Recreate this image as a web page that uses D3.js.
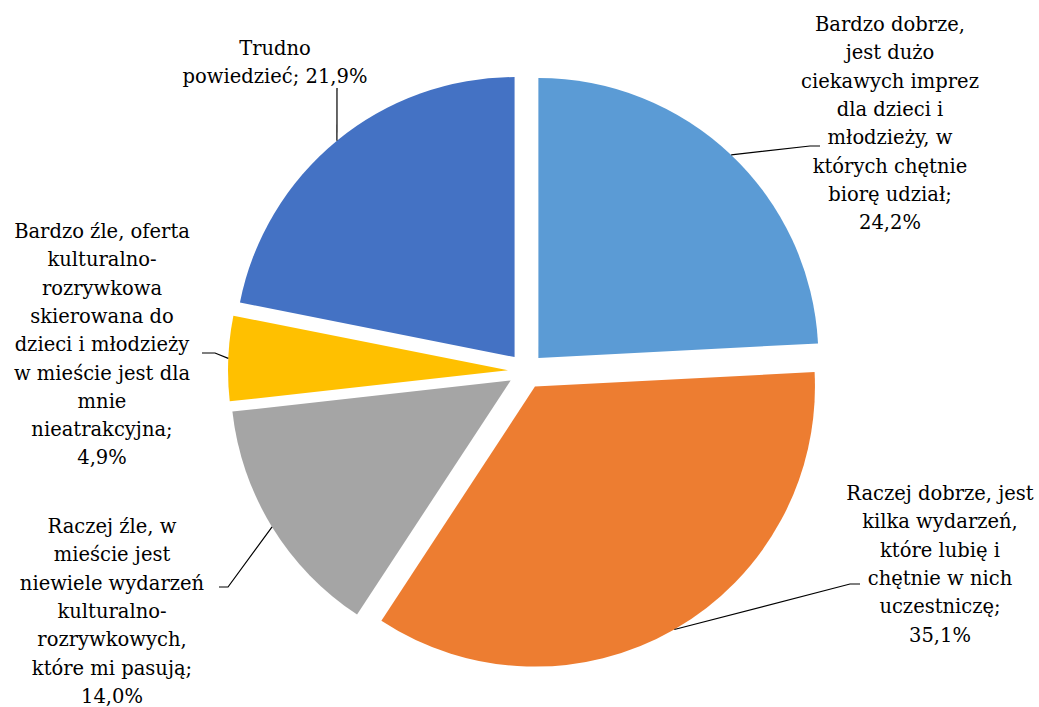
<!DOCTYPE html>
<html>
<head>
<meta charset="utf-8">
<script src="https://cdn.jsdelivr.net/npm/d3@7"></script>
</head>
<body style="margin:0;background:#fff">
<svg id="chart" width="1039" height="707"></svg>
<script>
// categories, clockwise from 12 o'clock
var categories = [
	"Bardzo dobrze, jest dużo ciekawych imprez dla dzieci i młodzieży, w których chętnie biorę udział",
	"Raczej dobrze, jest kilka wydarzeń, które lubię i chętnie w nich uczestniczę",
	"Raczej źle, w mieście jest niewiele wydarzeń kulturalno-rozrywkowych, które mi pasują",
	"Bardzo źle, oferta kulturalno-rozrywkowa skierowana do dzieci i młodzieży w mieście jest dla mnie nieatrakcyjna",
	"Trudno powiedzieć"
];
var values = [24.2, 35.1, 14.0, 4.9, 21.9];
var valueLabels = ["24,2%", "35,1%", "14,0%", "4,9%", "21,9%"];

// label line breaks as in the original
var labelLines = [
	["Bardzo dobrze,", "jest dużo", "ciekawych imprez", "dla dzieci i", "młodzieży, w", "których chętnie", "biorę udział;", "24,2%"],
	["Raczej dobrze, jest", "kilka wydarzeń,", "które lubię i", "chętnie w nich", "uczestniczę;", "35,1%"],
	["Raczej źle, w", "mieście jest", "niewiele wydarzeń", "kulturalno-", "rozrywkowych,", "które mi pasują;", "14,0%"],
	["Bardzo źle, oferta", "kulturalno-", "rozrywkowa", "skierowana do", "dzieci i młodzieży", "w mieście jest dla", "mnie", "nieatrakcyjna;", "4,9%"],
	["Trudno", "powiedzieć; 21,9%"]
];

var colors = ["#5B9BD5", "#ED7D31", "#A5A5A5", "#FFC000", "#4472C4"];

var svg = d3.select("#chart");
var cx = 526, cy = 371, radius = 280, explode = 18, lineH = 28.3;

// label placement (text center, first baseline, leader bend points)
var labelLayout = [
	{x: 890, y: 31, leader: [[810, 146], [820, 146]]},
	{x: 940, y: 500, leader: [[850, 584], [860, 584]]},
	{x: 112, y: 533, leader: [[228, 587], [219, 587]]},
	{x: 102, y: 238, leader: [[215, 353], [202, 353]]},
	{x: 275, y: 55, leader: [[337, 88]]}
];

var pie = d3.pie().sort(null).value(function(d) { return d; });
var arcs = pie(values);

var arc = d3.arc().innerRadius(0).outerRadius(radius);
var edge = d3.arc().innerRadius(radius).outerRadius(radius);

function offset(d) {
	var a = (d.startAngle + d.endAngle) / 2;
	return [cx + explode * Math.sin(a), cy - explode * Math.cos(a)];
}

var g = svg.append("g");

g.selectAll("path.slice")
	.data(arcs)
	.enter()
	.append("path")
	.attr("class", "slice")
	.attr("transform", function(d) { var o = offset(d); return "translate(" + o[0] + "," + o[1] + ")"; })
	.attr("d", arc)
	.style("fill", function(d, i) { return colors[i]; });

// leader lines from the arc midpoint
g.selectAll("path.leader")
	.data(arcs)
	.enter()
	.append("path")
	.attr("class", "leader")
	.attr("d", function(d, i) {
		var o = offset(d);
		var c = edge.centroid(d);
		var pts = [[o[0] + c[0], o[1] + c[1]]].concat(labelLayout[i].leader);
		return d3.line()(pts);
	})
	.style("fill", "none")
	.style("stroke", "#000")
	.style("stroke-width", 1.2);

var labels = svg.selectAll("text.label")
	.data(labelLines)
	.enter()
	.append("text")
	.attr("class", "label")
	.attr("text-anchor", "middle")
	.style("font-family", "'DejaVu Serif', 'Liberation Serif', serif")
	.style("font-size", "19.5px")
	.style("fill", "#000");

labels.each(function(lines, i) {
	var t = d3.select(this);
	lines.forEach(function(line, j) {
		t.append("tspan")
			.attr("x", labelLayout[i].x)
			.attr("y", labelLayout[i].y + j * lineH)
			.text(line);
	});
});
</script>
</body>
</html>
